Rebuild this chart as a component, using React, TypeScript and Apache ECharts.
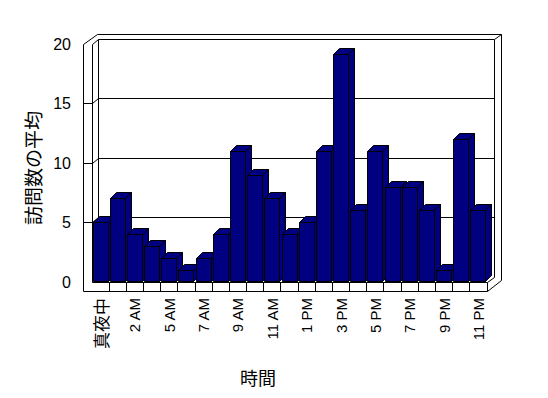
import React, { useEffect, useRef } from "react";
import * as echarts from "echarts";

const categories = [
  "真夜中", "1 AM", "2 AM", "3 AM", "5 AM", "6 AM", "7 AM", "8 AM", "9 AM", "10 AM", "11 AM", "正午",
  "1 PM", "2 PM", "3 PM", "4 PM", "5 PM", "6 PM", "7 PM", "8 PM", "9 PM", "10 PM", "11 PM",
];
const visitAverages = [5, 7, 4, 3, 2, 1, 2, 4, 11, 9, 7, 4, 5, 11, 19.2, 6, 11, 8, 8, 6, 1, 12, 6];
const yTicks = [0, 5, 10, 15, 20];
const yAxisTitle = "訪問数の平均";
const xAxisTitle = "時間";

const LATIN = "'Liberation Sans Narrow', 'Liberation Sans', Arial, sans-serif";
const CJK = "'Noto Sans CJK JP', sans-serif";

const s = (v: number) => Math.round(v - 0.5) + 0.5;

export default function App() {
  const ref = useRef<HTMLDivElement>(null);
  useEffect(() => {
    if (!ref.current) return;
    const chart = echarts.init(ref.current, null, { renderer: "svg" });
    const ln = (x1: number, y1: number, x2: number, y2: number) => ({
      type: "line",
      shape: { x1: s(x1), y1: s(y1), x2: s(x2), y2: s(y2) },
      style: { stroke: "#000", lineWidth: 1, fill: "none" },
    });

    const frameRender = (params: any, api: any) => {
      const cs = params.coordSys;
      const X0 = cs.x, X1 = cs.x + cs.width, YT = cs.y, Y0 = cs.y + cs.height;
      const W = 9; // slab thickness
      const dy = -5;
      const bL = X0 + 6, bR = X1 + 7.5;
      const outerR = X1 + 14;
      const topY = YT - 10.5;
      const catW = api.size([1, 0])[0];
      const children: any[] = [];
      children.push({
        type: "polygon",
        shape: { points: [[X0 - W, YT], [X0 + 5, topY], [outerR, topY], [outerR, Y0 + W - 11], [X1, Y0 + W], [X0 - W, Y0 + W]] },
        style: { fill: "#fff", stroke: "none" },
      });
      yTicks.forEach((v) => {
        const y = api.coord([0, v])[1];
        if (v > 0) {
          children.push(ln(bL, y + dy, bR, y + dy));
          children.push(ln(X0, y, bL, y + dy));
          if (v < 20) children.push(ln(X0 - W, y, X0, y));
        }
      });
      // left wall
      children.push(ln(X0 - W, YT + 0.4, X0 - W, Y0 + W));
      children.push(ln(X0, YT, X0, Y0));
      children.push(ln(bL, YT + dy, bL, Y0 + dy));
      // top
      children.push(ln(X0 - W, YT + 0.4, X0 + 5, topY));
      children.push(ln(X0 + 5, topY, outerR, topY));
      children.push(ln(bR, YT + dy, outerR, topY));
      // right
      children.push(ln(bR, YT + dy, bR, Y0 + dy));
      children.push(ln(outerR, topY, outerR, Y0 + W - 11));
      // floor
      children.push(ln(X0 - W, Y0 + W, X1, Y0 + W));
      children.push(ln(X0, Y0, X1, Y0));
      children.push(ln(X1, Y0, X1, Y0 + W));
      children.push(ln(X1, Y0 + W, outerR, Y0 + W - 11));
      children.push(ln(X1, Y0, bR, Y0 + dy));
      for (let i = 1; i < categories.length; i++) {
        const x = X0 + i * catW;
        children.push(ln(x, Y0, x, Y0 + W));
      }
      return { type: "group", children };
    };

    const barRender = (params: any, api: any) => {
      const idx = api.value(0);
      const val = api.value(1);
      const top = api.coord([idx, val]);
      const base = api.coord([idx, 0]);
      const catW = api.size([1, 0])[0];
      const w = Math.round(catW - 2);
      const dx = 6, dy = -6;
      const l = s(top[0] - w / 2), r = l + w;
      const t = s(top[1]), b = s(base[1] - 1);
      const st = { fill: "#000080", stroke: "#000", lineWidth: 1 };
      return {
        type: "group",
        children: [
          { type: "polygon", shape: { points: [[r, t], [r + dx, t + dy], [r + dx, b + dy], [r, b]] }, style: st },
          { type: "polygon", shape: { points: [[l, t], [l + dx, t + dy], [r + dx, t + dy], [r, t]] }, style: st },
          { type: "rect", shape: { x: l, y: t, width: w, height: b - t }, style: st },
        ],
      };
    };

    chart.setOption({
      animation: false,
      backgroundColor: "#fff",
      grid: { left: 92, top: 44.5, width: 395, height: 237.5 },
      xAxis: {
        type: "category",
        data: categories,
        boundaryGap: true,
        axisLine: { show: false },
        axisTick: { show: false },
        splitLine: { show: false },
        axisLabel: {
          interval: 1,
          rotate: 90,
          margin: 16,
          color: "#000000",
          fontSize: 15,
          fontFamily: LATIN,
          formatter: (v: string) => (/[^\x00-\x7F]/.test(v) ? `{cjk|${v}}` : v),
          rich: { cjk: { fontFamily: CJK, fontSize: 17, color: "#000000" } },
        },
      },
      yAxis: {
        type: "value",
        min: 0,
        max: 20,
        interval: 5,
        axisLine: { show: false },
        axisTick: { show: false },
        splitLine: { show: false },
        axisLabel: { margin: 21, color: "#000000", fontSize: 16, fontFamily: LATIN },
      },
      graphic: [
        {
          type: "text",
          x: 258,
          y: 377,
          style: { text: xAxisTitle, fill: "#000", font: `18px ${CJK}`, align: "center", verticalAlign: "middle" },
        },
        {
          type: "text",
          x: 32,
          y: 168,
          rotation: Math.PI / 2,
          style: { text: yAxisTitle, fill: "#000", font: `19px ${CJK}`, align: "center", verticalAlign: "middle" },
        },
      ],
      series: [
        {
          type: "custom",
          renderItem: frameRender,
          data: [[0, 0]],
          z: 1,
          silent: true,
        },
        {
          type: "custom",
          renderItem: barRender,
          data: visitAverages.map((v, i) => [i, v]),
          encode: { x: 0, y: 1 },
          z: 2,
        },
      ],
    });
    return () => chart.dispose();
  }, []);
  return <div ref={ref} style={{ position: "absolute", left: 0, top: 0, width: 548, height: 398 }} />;
}
